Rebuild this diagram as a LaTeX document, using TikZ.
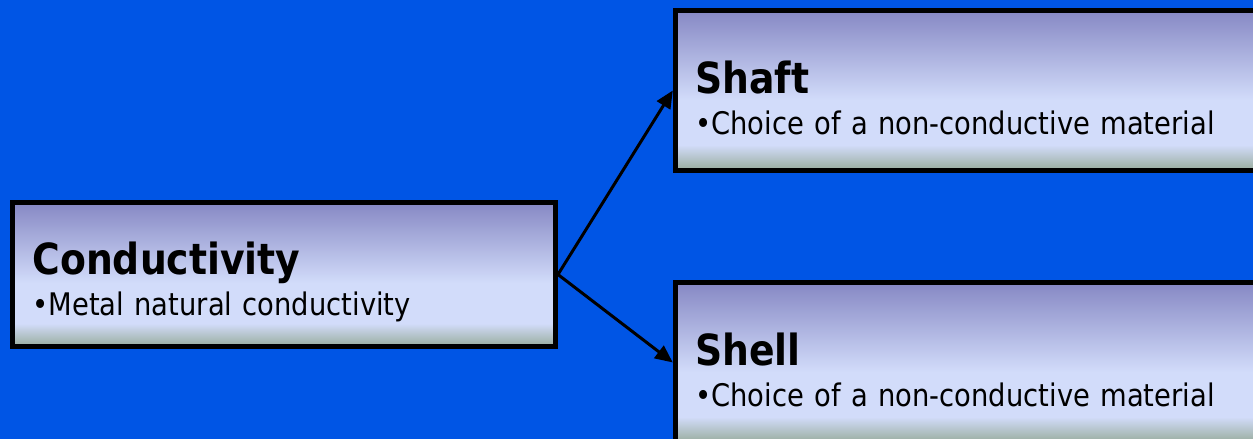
\documentclass[tikz,border=0pt]{standalone}
\usepackage{fontspec}
\setmainfont{DejaVu Sans}[FakeStretch=0.88]
\usetikzlibrary{arrows.meta}

\definecolor{slideblue}{RGB}{0,85,229}
\definecolor{boxtop}{RGB}{134,136,196}
\definecolor{boxlight}{RGB}{210,220,250}
\definecolor{boxbottom}{RGB}{152,172,156}
\pgfdeclareverticalshading{boxfade}{100bp}{color(0bp)=(boxbottom); color(25bp)=(boxbottom);
  color(33bp)=(boxlight); color(47bp)=(boxlight); color(75bp)=(boxtop); color(100bp)=(boxtop)}

\tikzset{
  topic/.style={draw=black, line width=1.4pt, shade, shading=boxfade,
    inner xsep=0.2cm, align=left, font=\fontsize{8.85}{11.66}\selectfont},
  link/.style={-{Triangle[length=5pt,width=4.4pt]}, line width=0.85pt}
}
\newcommand{\topictitle}[1]{{\fontsize{12.2}{12.2}\selectfont\bfseries\rule{0pt}{13.6pt}#1}}

\begin{document}
\begin{tikzpicture}
    %\draw[very thin,color=gray] (0,0) grid (12.53,4.39);
    \fill[slideblue] (0,0) rectangle (12.53,4.39);
    \useasboundingbox (0,0) rectangle (12.53,4.39);
    \node [topic, minimum width=5.43cm, minimum height=1.44cm, text width=5.03cm] (cond) at (2.84,1.645)
        {\topictitle{Conductivity}\\ •Metal natural conductivity};
    \node [topic, minimum width=5.9cm, minimum height=1.6cm, text width=5.5cm] (shaft) at (9.7025,3.485)
        {\topictitle{Shaft}\\ •Choice of a non-conductive material};
    \node [topic, minimum width=5.9cm, minimum height=1.6cm, text width=5.5cm] (shell) at (9.7025,0.765)
        {\topictitle{Shell}\\ •Choice of a non-conductive material};
    \draw [link] (cond.east) -- (shaft.west);
    \draw [link] (cond.east) -- (shell.west);
\end{tikzpicture}
\end{document}
